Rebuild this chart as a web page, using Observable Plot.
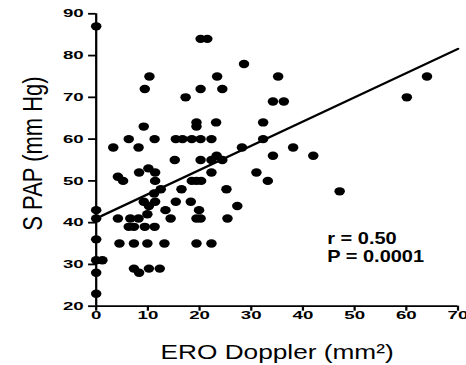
<!DOCTYPE html>
<html><head><meta charset="utf-8">
<script src="https://cdn.jsdelivr.net/npm/d3@7"></script>
<script src="https://cdn.jsdelivr.net/npm/@observablehq/plot@0.6"></script>
<style>html,body{margin:0;padding:0;background:#fff;overflow:hidden}</style>
</head><body><div id="chart"></div>
<script>
// ERO Doppler (mm²) and systolic PAP (mm Hg)
const ero = [0,0,0,0,0,1.2,0,0,
  3.3,4.2,5.2,4.2,4.5,6.3,6.6,8.2,6.3,7.3,7.3,7.3,8.3,8.2,8.3,9.2,9.2,9.4,9.4,9.9,9.9,10.2,
  10.1,10.2,10.3,11.3,11.4,11.4,11.2,11.4,11.3,12.3,12.5,13.4,13.2,14.4,15.2,15.4,16.7,15.4,16.5,17.3,
  18.3,18.5,19.4,19.4,20.2,18.5,19.4,20.3,19.9,19.4,20.2,19.4,20.2,21.5,20.2,20.2,22.3,22.3,23.3,24.4,
  22.3,22.3,23.2,23.4,24.4,25.2,25.4,27.3,28.2,28.6,31,32.3,32.3,33.2,34.2,34.2,36.3,35.2,38.1,42,
  47.1,60.1,64];
const spap = [87,43,41,36,31,31,28,23,
  58,51,50,41,35,60,41,41,39,39,35,29,28,58,52,63,45,72,39,42,35,44,
  53,29,75,60,52,50,47,45,39,29,48,43,35,41,55,60,60,45,48,70,
  45,60,64,63,60,50,50,50,43,41,41,35,84,84,72,55,60,55,56,55,
  52,35,64,75,72,48,41,44,58,78,52,64,60,50,56,69,69,75,58,56,
  47.5,70,75];
const xTicks = [0,10,20,30,40,50,60,70];
const yTicks = [20,30,40,50,60,70,80,90];
const fitX = [1, 70];
const fitY = [41.6, 81.6];
const statsLines = ["r = 0.50", "P = 0.0001"];
const statsX = [44.7, 44.7];
const statsY = [36.0, 31.8];
const xTitle = "ERO Doppler (mm²)";
const yTitle = "S PAP (mm Hg)";

const points = ero.map((x, i) => ({x, y: spap[i]}));
const fit = fitX.map((x, i) => ({x, y: fitY[i]}));
const stats = statsLines.map((t, i) => ({t, x: statsX[i], y: statsY[i]}));

const STRETCH = 1.25;
const W = 466, H = 365, innerW = Math.round(W / STRETCH);
const FONT = "'Liberation Sans', Arial, Helvetica, sans-serif";

const chart = Plot.plot({
  width: innerW, height: H,
  marginLeft: 76.5, marginRight: 6.9, marginTop: 13.3, marginBottom: 59.3,
  x: {domain: [0, 70]},
  y: {domain: [20, 90]},
  style: {fontFamily: FONT, color: "#000", background: "#fff"},
  marks: [
    Plot.axisX({ticks: xTicks, tickSize: 5, tickPadding: 0, label: null, strokeWidth: 1.8,
      fontSize: 11.5, fontWeight: "bold", tickFormat: d => String(d)}),
    Plot.axisY({ticks: yTicks, tickSize: 6, tickPadding: 4, label: null, strokeWidth: 1.8,
      fontSize: 11.5, fontWeight: "bold", tickFormat: d => String(d)}),
    Plot.ruleX([0], {y1: 20, y2: 90, stroke: "#000", strokeWidth: 1.8}),
    Plot.ruleY([20], {x1: 0, x2: 70, stroke: "#000", strokeWidth: 1.8}),
    Plot.line(fit, {x: "x", y: "y", stroke: "#000", strokeWidth: 2.2}),
    Plot.dot(points, {x: "x", y: "y", r: 4.2, fill: "#000", stroke: "none"}),
    Plot.text(stats, {x: "x", y: "y", text: "t", textAnchor: "start", lineAnchor: "middle",
      fontSize: 16, fontWeight: "bold", fill: "#000"}),
    Plot.text([xTitle], {text: d => d, frameAnchor: "bottom", textAnchor: "middle", lineAnchor: "middle",
      dy: 46.3, fontSize: 21, fill: "#000"}),
    Plot.text([yTitle], {text: d => d, frameAnchor: "left", textAnchor: "middle", lineAnchor: "middle",
      dx: -50.5, dy: -6.5, rotate: -90, fontSize: 22, fill: "#000"})
  ]
});

// stretch horizontally like the reference scan
chart.setAttribute("width", W);
chart.setAttribute("height", H);
chart.setAttribute("preserveAspectRatio", "none");
chart.style.width = W + "px";
chart.style.height = H + "px";
chart.style.maxWidth = "none";

// wide digits on the tick labels
chart.querySelectorAll('g[aria-label="x-axis tick label"] text, g[aria-label="y-axis tick label"] text').forEach(t => {
  const tr = t.getAttribute("transform");
  if (tr) t.setAttribute("transform", tr + " scale(1.3,1)");
  else {
    const x = +t.getAttribute("x") || 0, y = +t.getAttribute("y") || 0;
    t.removeAttribute("x"); t.removeAttribute("y");
    t.setAttribute("transform", `translate(${x},${y}) scale(1.3,1)`);
  }
});

document.getElementById("chart").appendChild(chart);
</script></body></html>
